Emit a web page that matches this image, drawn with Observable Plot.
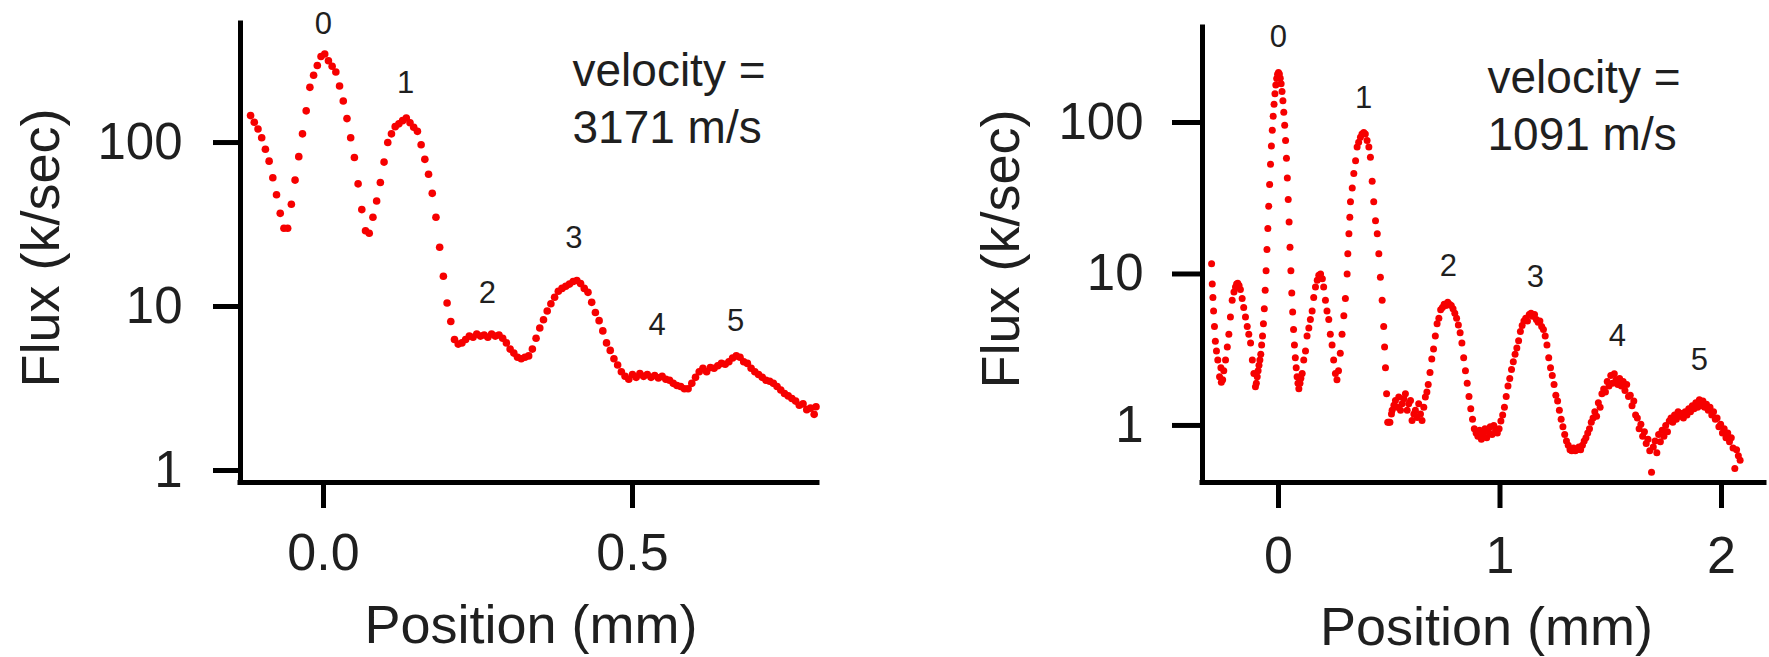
<!DOCTYPE html>
<html><head><meta charset="utf-8">
<script src="https://cdn.jsdelivr.net/npm/d3@7"></script>
<script src="https://cdn.jsdelivr.net/npm/@observablehq/plot@0.6"></script>
<style>
html,body{margin:0;padding:0;background:#fff;}
#wrap{position:relative;width:1769px;height:657px;overflow:hidden;background:#fff;}
#wrap svg{position:absolute;top:0;}
</style></head><body><div id="wrap"></div>
<script>
// ---------- data ----------
const yTicks = [1, 10, 100];
const leftXTicks = [0, 0.5];
const rightXTicks = [0, 1, 2];
const orderText = ["0", "1", "2", "3", "4", "5"];
const leftOrderPos = [0, 0.133, 0.265, 0.405, 0.54, 0.667];
const leftOrderFlux = [525, 232, 12, 26, 7.7, 8.2];
const rightOrderPos = [0, 0.384, 0.767, 1.16, 1.53, 1.90];
const rightOrderFlux = [364, 144, 11.2, 9.5, 3.9, 2.7];
const leftVelocity = "velocity =\n3171 m/s";
const rightVelocity = "velocity =\n1091 m/s";
const yTitle = "Flux (k/sec)";
const xTitle = "Position (mm)";

// [position (mm), flux (k/sec)]
const leftData = [
[-0.118,146],[-0.112,133],[-0.106,121],[-0.100,107],[-0.094,91],[-0.088,77],[-0.082,61],[-0.076,48],[-0.070,37],[-0.064,30],[-0.058,30],
[-0.052,42],[-0.046,59],[-0.040,82],[-0.034,113],[-0.028,156],[-0.022,217],[-0.016,257],[-0.010,295],[-0.004,335],[0.002,347],
[0.008,315],[0.014,292],[0.020,269],[0.026,221],[0.032,179],[0.038,140],[0.044,107],[0.050,81],[0.056,56],[0.062,39],[0.068,29],
[0.074,28],[0.080,35],[0.086,44],[0.092,57],[0.098,76],[0.104,100],[0.110,113],[0.116,125],[0.122,130],[0.128,136],[0.134,141],
[0.140,132],[0.146,124],[0.152,117],[0.158,97],[0.164,79],[0.170,64],[0.176,49],[0.182,35],[0.188,23],[0.194,15.3],[0.200,10.5],
[0.206,8.1],[0.212,6.3],[0.218,5.9],[0.224,6.0],[0.230,6.3],[0.236,6.6],[0.242,6.5],[0.248,6.8],[0.254,6.6],[0.260,6.7],[0.266,6.5],
[0.272,6.8],[0.278,6.6],[0.284,6.7],[0.290,6.4],[0.296,6.0],[0.302,5.5],[0.308,5.2],[0.314,4.9],[0.320,4.8],[0.326,4.9],[0.332,5.0],
[0.338,5.5],[0.344,6.4],[0.350,7.4],[0.356,8.3],[0.362,9.4],[0.368,10.4],[0.374,11.4],[0.380,12.4],[0.386,12.9],[0.392,13.3],
[0.398,13.7],[0.404,14.2],[0.410,14.4],[0.416,13.8],[0.422,12.9],[0.428,12.2],[0.434,10.6],[0.440,9.2],[0.446,8.2],[0.452,7.1],
[0.458,6.0],[0.464,5.4],[0.470,4.8],[0.476,4.4],[0.482,4.0],[0.488,3.76],[0.494,3.6],[0.500,3.85],[0.506,3.7],[0.512,3.9],
[0.518,3.75],[0.524,3.85],[0.530,3.7],[0.536,3.8],[0.542,3.67],[0.548,3.75],[0.554,3.6],[0.560,3.55],[0.566,3.4],[0.572,3.3],
[0.578,3.25],[0.584,3.15],[0.590,3.15],[0.596,3.4],[0.602,3.7],[0.608,4.0],[0.614,4.2],[0.620,4.0],[0.626,4.25],[0.632,4.2],
[0.638,4.35],[0.644,4.5],[0.650,4.45],[0.656,4.6],[0.662,4.85],[0.668,5.0],[0.674,4.9],[0.680,4.6],[0.686,4.5],[0.692,4.2],
[0.698,4.0],[0.704,3.85],[0.710,3.7],[0.716,3.55],[0.722,3.5],[0.728,3.4],[0.734,3.25],[0.740,3.1],[0.746,2.95],[0.752,2.85],
[0.758,2.75],[0.764,2.65],[0.770,2.5],[0.776,2.55],[0.782,2.35],[0.788,2.4],[0.794,2.2],[0.797,2.45]
];

const rightData = [
[-0.302,11.7],[-0.299,8.6],[-0.296,7.0],[-0.293,5.7],[-0.289,4.5],[-0.285,3.6],[-0.280,3.1],[-0.274,2.7],[-0.266,2.1],[-0.260,2.4],[-0.258,1.93],[-0.252,2.0],[-0.247,2.3],
[-0.239,2.7],[-0.231,3.3],[-0.224,4.0],[-0.217,5.2],[-0.209,6.7],[-0.201,7.6],[-0.194,8.2],[-0.189,8.6],[-0.184,8.7],[-0.178,8.4],[-0.172,7.9],[-0.164,6.9],[-0.157,6.0],[-0.149,5.2],[-0.141,4.5],[-0.134,4.0],[-0.126,3.5],[-0.118,2.7],[-0.111,2.2],[-0.104,1.8],
[-0.100,1.9],[-0.096,2.1],[-0.092,2.3],[-0.088,2.5],[-0.084,2.7],[-0.080,2.95],[-0.076,3.4],[-0.072,3.9],[-0.068,4.7],[-0.064,5.9],[-0.060,7.8],[-0.056,10.5],[-0.052,14.5],[-0.048,20],[-0.044,28],[-0.040,39],[-0.036,53],[-0.032,70],[-0.028,89],[-0.024,110],[-0.020,132],[-0.016,155],[-0.012,177],[-0.008,195],[-0.004,208],[0.000,214],
[0.004,209],[0.008,196],[0.012,180],[0.016,160],[0.020,139],[0.024,117],[0.028,96],[0.032,76],[0.036,58],[0.040,43],[0.044,31],[0.048,22],[0.052,15],[0.056,10.5],[0.060,7.5],[0.064,5.6],[0.068,4.3],[0.072,3.4],[0.076,2.8],[0.080,2.4],[0.084,2.1],[0.088,1.9],[0.092,1.75],[0.097,1.9],[0.101,2.05],
[0.107,2.2],[0.114,2.7],[0.122,3.1],[0.129,3.9],[0.137,4.4],[0.144,5.0],[0.152,5.7],[0.159,7.0],[0.167,8.2],[0.175,9.1],[0.182,9.8],[0.190,10],[0.198,9.3],[0.204,8.2],[0.212,6.7],[0.219,5.7],[0.227,5.0],[0.234,4.0],[0.242,3.4],[0.249,2.7],[0.257,2.2],[0.264,2.0],[0.271,2.3],
[0.279,3.0],[0.287,4.0],[0.295,5.3],[0.302,6.9],[0.310,10],[0.313,13.6],[0.318,18.4],[0.322,23.7],[0.325,30],[0.333,37],[0.340,46],[0.348,56],[0.355,69],[0.362,74],[0.370,80],[0.377,84],[0.385,86],[0.392,84],[0.400,76],[0.408,69],[0.415,59],[0.423,41],[0.430,30],[0.438,22.5],[0.446,18.4],[0.453,13.6],[0.460,9.5],[0.468,6.7],[0.475,4.5],[0.479,3.3],[0.483,2.4],[0.488,1.62],[0.493,1.05],
[0.498,1.05],[0.503,1.05],[0.510,1.19],[0.513,1.26],[0.521,1.36],[0.528,1.46],[0.536,1.32],[0.543,1.54],[0.551,1.26],[0.558,1.39],[0.566,1.5],[0.573,1.62],[0.581,1.26],[0.588,1.39],[0.596,1.46],[0.603,1.08],[0.611,1.19],[0.618,1.26],[0.626,1.13],[0.633,1.39],[0.641,1.19],[0.648,1.08],[0.656,1.32],[0.663,1.54],[0.670,1.66],
[0.676,1.86],[0.684,2.24],[0.692,2.75],[0.700,3.2],[0.708,3.9],[0.716,4.7],[0.724,5.1],[0.732,5.8],[0.740,6.0],[0.748,6.3],[0.756,6.2],[0.764,6.5],[0.772,6.3],[0.780,6.2],[0.788,5.9],[0.796,5.5],[0.804,5.1],[0.812,4.6],[0.820,4.1],[0.828,3.5],[0.836,2.8],[0.844,2.3],[0.852,1.9],[0.860,1.55],[0.868,1.29],[0.876,1.1],[0.884,0.95],[0.892,0.89],
[0.900,0.85],[0.908,0.93],[0.916,0.81],[0.924,0.87],[0.932,0.95],[0.940,0.83],[0.948,0.91],[0.956,0.98],[0.964,0.87],[0.972,1.0],[0.980,0.93],[0.988,0.89],[0.996,0.95],[1.004,1.07],
[1.012,1.17],[1.020,1.32],[1.028,1.55],[1.036,1.82],[1.044,2.04],[1.052,2.34],[1.060,2.63],[1.068,2.95],[1.076,3.24],[1.084,3.63],[1.092,4.17],[1.100,4.57],[1.108,4.9],[1.116,5.1],[1.124,4.9],[1.132,5.4],[1.140,5.5],[1.148,5.25],[1.156,5.4],[1.164,5.0],[1.172,4.8],[1.180,4.9],[1.188,4.5],[1.196,4.3],[1.204,3.9],[1.212,3.4],[1.220,2.8],[1.228,2.4],[1.236,2.14],[1.244,1.86],[1.252,1.58],[1.260,1.45],[1.268,1.26],[1.276,1.1],[1.284,0.98],[1.292,0.87],[1.300,0.79],[1.308,0.74],
[1.316,0.69],[1.324,0.68],[1.332,0.71],[1.340,0.68],[1.348,0.69],[1.356,0.72],[1.364,0.69],[1.372,0.74],[1.380,0.79],[1.388,0.83],[1.396,0.89],[1.404,0.95],[1.412,1.05],
[1.420,1.12],[1.428,1.23],[1.436,1.15],[1.444,1.41],[1.452,1.32],[1.460,1.62],[1.468,1.74],[1.476,1.66],[1.484,1.95],[1.492,1.82],[1.500,2.14],[1.508,1.9],[1.516,2.19],[1.524,2.0],[1.532,1.86],[1.540,2.04],[1.548,1.82],[1.556,1.95],[1.564,1.7],[1.572,1.86],[1.580,1.55],[1.588,1.58],[1.596,1.35],[1.604,1.45],[1.612,1.17],[1.620,1.12],[1.628,0.95],[1.636,1.02],[1.644,0.85],[1.652,0.91],[1.660,0.76],[1.668,0.81],[1.676,0.68],[1.684,0.49],[1.692,0.72],[1.700,0.79],[1.708,0.66],[1.716,0.87],[1.724,0.78],[1.732,0.93],[1.740,0.85],[1.748,1.0],[1.756,0.91],[1.764,1.07],
[1.772,1.12],[1.780,1.05],[1.788,1.17],[1.796,1.1],[1.804,1.23],[1.812,1.15],[1.820,1.2],[1.828,1.12],[1.836,1.23],[1.844,1.17],[1.852,1.29],[1.860,1.23],[1.868,1.35],[1.876,1.29],[1.884,1.41],[1.892,1.32],[1.900,1.48],[1.908,1.35],[1.916,1.45],[1.924,1.32],[1.932,1.38],[1.940,1.26],[1.948,1.32],[1.956,1.17],[1.964,1.23],[1.972,1.1],[1.980,1.12],[1.988,0.98],[1.996,1.02],[2.004,0.89],[2.012,0.95],[2.020,0.83],[2.028,0.89],[2.036,0.78],[2.044,0.83],[2.052,0.71],[2.060,0.52],[2.068,0.69],[2.076,0.63],[2.084,0.59]
];

// ---------- drawing ----------
const FONT = '"Liberation Sans", Arial, Helvetica, sans-serif';
const INK = "#1f1f1f";
const RED = "#f60000";
const H = 657;

function panel(c) {
  const svg = Plot.plot({
    width: c.width, height: H,
    marginLeft: c.ml, marginRight: c.mr, marginTop: c.mt, marginBottom: H - c.bottom,
    x: {domain: c.xDomain},
    y: {type: "log", domain: c.yDomain},
    style: {fontFamily: FONT, color: INK, background: "transparent", overflow: "visible"},
    marks: [
      Plot.dot(c.points, {x: d => d[0], y: d => d[1], r: c.r, fill: RED, stroke: null}),
      Plot.ruleX([c.xDomain[0]], {stroke: "#000", strokeWidth: 5, strokeLinecap: "square"}),
      Plot.ruleY([c.yDomain[0]], {stroke: "#000", strokeWidth: 5, strokeLinecap: "square"}),
      Plot.axisY({ticks: yTicks, tickFormat: d3.format("d"), tickSize: c.yTickSize, tickPadding: c.yTickPad,
                  strokeWidth: 5, stroke: "#000", fontSize: 51, label: null}),
      Plot.axisX({ticks: c.xTicks, tickFormat: c.xFormat, tickSize: 26, tickPadding: c.xTickPad,
                  strokeWidth: 5, stroke: "#000", fontSize: 52, label: null}),
      Plot.text(orderText, {x: (d, i) => c.orderPos[i], y: (d, i) => c.orderFlux[i], text: d => d,
                  fontSize: 31, textAnchor: "middle", lineAnchor: "middle"}),
      Plot.text([c.velocity], {frameAnchor: "top-left", dx: c.vdx, dy: c.vdy, text: d => d,
                  textAnchor: "start", lineAnchor: "top", fontSize: 46, lineHeight: 1.24}),
      Plot.text([yTitle], {frameAnchor: "left", rotate: -90, dx: c.ytdx, dy: c.ytdy, text: d => d,
                  textAnchor: "middle", lineAnchor: "middle", fontSize: 54}),
      Plot.text([xTitle], {frameAnchor: "bottom", dx: c.xtdx, dy: c.xtdy, text: d => d,
                  textAnchor: "middle", lineAnchor: "top", fontSize: 54})
    ]
  });
  svg.style.left = c.left + "px";
  return svg;
}

const wrap = document.getElementById("wrap");
wrap.appendChild(panel({
  left: 0, width: 885, ml: 240, mr: 68, mt: 23, bottom: 482,
  xDomain: [-0.1343, 0.7994], yDomain: [0.845, 532],
  points: leftData, r: 3.8,
  xTicks: leftXTicks, xFormat: d3.format(".1f"), xTickPad: 25,
  yTickSize: 27, yTickPad: 31,
  orderPos: leftOrderPos, orderFlux: leftOrderFlux,
  velocity: leftVelocity, vdx: 332, vdy: 22,
  ytdx: -199, ytdy: -5, xtdx: 2, xtdy: 122
}));
wrap.appendChild(panel({
  left: 885, width: 884, ml: 317, mr: 5, mt: 27, bottom: 482,
  xDomain: [-0.343, 2.194], yDomain: [0.42, 424],
  points: rightData, r: 3.5,
  xTicks: rightXTicks, xFormat: d3.format("d"), xTickPad: 28,
  yTickSize: 30, yTickPad: 29,
  orderPos: rightOrderPos, orderFlux: rightOrderFlux,
  velocity: rightVelocity, vdx: 285, vdy: 25,
  ytdx: -201, ytdy: -6, xtdx: 3, xtdy: 124
}));
</script></body></html>
